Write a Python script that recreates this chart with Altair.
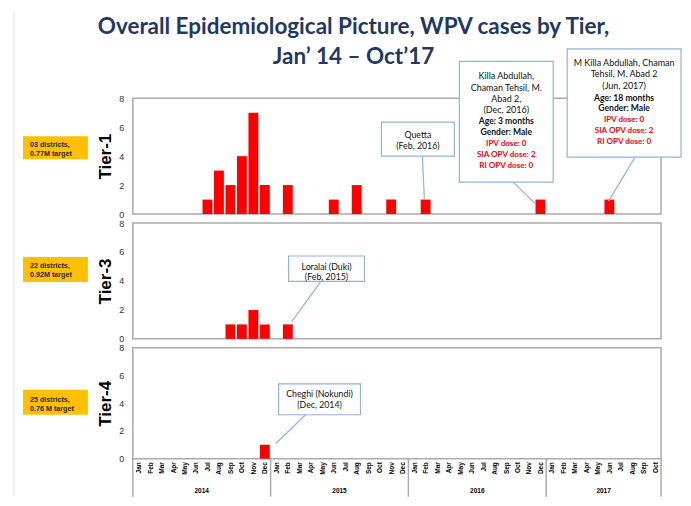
import altair as alt
import pandas as pd

# ---------------- data ----------------
month_names = ["Jan", "Feb", "Mar", "Apr", "May", "Jun", "Jul", "Aug", "Sep", "Oct", "Nov", "Dec"]
years = [2014, 2015, 2016, 2017]
months_per_year = [12, 12, 12, 10]

tier1_month = ["2014-07", "2014-08", "2014-09", "2014-10", "2014-11", "2014-12",
               "2015-02", "2015-06", "2015-08", "2015-11", "2016-02", "2016-12", "2017-06"]
tier1_cases = [1, 3, 2, 4, 7, 2, 2, 1, 2, 1, 1, 1, 1]

tier3_month = ["2014-09", "2014-10", "2014-11", "2014-12", "2015-02"]
tier3_cases = [1, 1, 2, 1, 1]

tier4_month = ["2014-12"]
tier4_cases = [1]

tier_names = ["Tier-1", "Tier-3", "Tier-4"]
tier_targets = [["03 districts,", "0.77M target"],
                ["22 districts,", "0.92M target"],
                ["25 districts,", "0.76 M target"]]

title_lines = ["Overall Epidemiological Picture, WPV cases by Tier,", "Jan\u2019 14 \u2013 Oct\u201917"]

# ---------------- helpers ----------------
N_MONTHS = sum(months_per_year)
W = 529
HEIGHTS = [116, 116, 111]
FRAME = "#ABABAB"
BLUE = "#8DB4E2"
FONT = "Lato"

xscale = alt.Scale(domain=[0, N_MONTHS], nice=False, zero=False)
yscale = alt.Scale(domain=[0, 8], nice=False)
one = pd.DataFrame({"k": [0]})


def month_index(s):
    y, m = s.split("-")
    return (int(y) - years[0]) * 12 + int(m) - 1


def bar_frame(months, cases):
    idx = [month_index(m) for m in months]
    return pd.DataFrame({
        "idx": idx,
        "cases": cases,
        "x0": [i + 0.07 for i in idx],
        "x1": [i + 0.93 for i in idx],
        "zero": [0] * len(idx),
    })


def yaxis(title):
    return alt.Axis(title=title, values=[0, 2, 4, 6, 8], grid=False, ticks=False, domain=False,
                    labelFontSize=9, labelColor="#333333", labelFont="Liberation Sans",
                    labelPadding=9, titleFont="Liberation Sans", titleFontSize=17,
                    titleFontWeight="bold", titleColor="#000000", titlePadding=4)


def xaxis(show):
    if not show:
        return None
    return alt.Axis(values=[i + 0.5 for i in range(N_MONTHS)],
                    labelExpr="['Jan','Feb','Mar','Apr','May','Jun','Jul','Aug','Sep','Oct','Nov','Dec'][floor(datum.value) % 12]",
                    labelAngle=270, labelFontSize=6.5, labelFontWeight="bold", labelFont="Liberation Sans",
                    labelColor="#000000", labelPadding=3, ticks=False, domain=False, grid=False,
                    title=None, labelOverlap=False, labelFlush=False)


def rect(x1, x2, y1, y2, fill, stroke=None, sw=1.2, opacity=1.0):
    kw = dict(fill=fill, opacity=opacity)
    if stroke:
        kw.update(stroke=stroke, strokeWidth=sw)
    return alt.Chart(one).mark_rect(**kw).encode(
        x=alt.value(x1), x2=alt.value(x2), y=alt.value(y1), y2=alt.value(y2))


def line(xa, ya, xb, yb, color=BLUE, sw=1.2):
    return alt.Chart(one).mark_rule(color=color, strokeWidth=sw).encode(
        x=alt.value(xa), y=alt.value(ya), x2=alt.value(xb), y2=alt.value(yb))


def label(txt, x, y, size=9, color="#111111", weight="normal", align="center", font=FONT,
          baseline="middle"):
    return alt.Chart(one).mark_text(font=font, fontSize=size, color=color, fontWeight=weight,
                                    align=align, baseline=baseline).encode(
        x=alt.value(x), y=alt.value(y), text=alt.value(txt))


def target_box(lines, y1, y2, ty):
    return [rect(-110, -45, y1, y2, "#FFC000"),
            label(lines[0], -103, ty[0], size=7.2, color="#262626", weight="bold", align="left",
                  font="Liberation Sans"),
            label(lines[1], -103, ty[1], size=7.2, color="#262626", weight="bold", align="left",
                  font="Liberation Sans")]


def panel(k, months, cases, show_x, extras):
    df = bar_frame(months, cases)
    xa = xaxis(show_x)
    bars = alt.Chart(df).mark_rect(color="#FF0000").encode(
        x=alt.X("x0:Q", scale=xscale, axis=xa),
        x2="x1",
        y=alt.Y("cases:Q", scale=yscale, axis=yaxis(tier_names[k])),
        y2="zero",
    )
    layers = [bars] + extras
    if show_x:
        H = HEIGHTS[k]
        starts = [0]
        for n in months_per_year:
            starts.append(starts[-1] + n)
        bounds = pd.DataFrame({"b": starts})
        mids = pd.DataFrame({"year": [str(y) for y in years],
                             "mid": [(starts[i] + starts[i + 1]) / 2 for i in range(len(years))]})
        sep = alt.Chart(bounds).mark_rule(color=FRAME, strokeWidth=1.5).encode(
            x=alt.X("b:Q", scale=xscale, axis=xa), y=alt.value(H), y2=alt.value(H + 38))
        yr = alt.Chart(mids).mark_text(font="Liberation Sans", fontSize=6.5, fontWeight="bold",
                                       color="#000000", baseline="middle").encode(
            x=alt.X("mid:Q", scale=xscale, axis=xa), y=alt.value(H + 32), text="year:N")
        layers += [sep, yr]
    return alt.layer(*layers).properties(width=W, height=HEIGHTS[k])


# ---------- panel 1 extras ----------
p1_extra = [
    # invisible anchor fixing the top-left corner of the page, slide border line
    rect(-124, -123, -89, -88, "#FFFFFF", opacity=0.0),
    line(-119, -87, -119, 398, color="#DDDDDD", sw=1.0),
    # title
    label(title_lines[0], 221, -64, size=22.5, color="#1F3864", weight="bold", baseline="alphabetic"),
    label(title_lines[1], 221, -34, size=22.5, color="#1F3864", weight="bold", baseline="alphabetic"),
]
p1_extra += target_box(tier_targets[0], 38, 61, [47, 55.5])
# Quetta
p1_extra += [line(290, 58, 292, 101),
             rect(249, 322, 24, 58, "#FFFFFF", stroke=BLUE),
             label("Quetta", 285.5, 36.5, size=8.8),
             label("(Feb, 2016)", 285.5, 47.5, size=8.8)]
# Killa Abdullah (Dec 2016)
p1_extra += [line(381, 84, 403.5, 106),
             rect(327, 421, -37, 84, "#FFFFFF", stroke=BLUE)]
for t, yy, sz, wt in [("Killa Abdullah,", -22, 9, "normal"), ("Chaman Tehsil, M.", -10.5, 9, "normal"),
                      ("Abad 2,", 0.7, 9, "normal"), ("(Dec, 2016)", 12, 9, "normal"),
                      ("Age: 3 months", 22.5, 8.6, "bold"), ("Gender: Male", 34, 8.6, "bold")]:
    p1_extra.append(label(t, 374, yy, size=sz, weight=wt))
for t, yy in [("IPV dose:  0", 46.3), ("SIA OPV dose:  2", 57), ("RI OPV dose:  0", 68)]:
    p1_extra.append(label(t, 374, yy, size=8.1, color="#FF0000", weight="bold"))
# M Killa Abdullah (Jun 2017)
p1_extra += [line(503, 59, 476.5, 103),
             rect(435, 549, -49.5, 59, "#FFFFFF", stroke=BLUE)]
for t, yy, sz, wt in [("M Killa Abdullah, Chaman", -35.3, 9, "normal"), ("Tehsil, M. Abad 2", -24.3, 9, "normal"),
                      ("(Jun, 2017)", -12.3, 9, "normal"), ("Age: 18 months", -0.5, 8.6, "bold"),
                      ("Gender: Male", 10, 8.6, "bold")]:
    p1_extra.append(label(t, 492, yy, size=sz, weight=wt))
for t, yy in [("IPV dose:  0", 21.7), ("SIA OPV dose:  2", 33), ("RI OPV dose:  0", 44)]:
    p1_extra.append(label(t, 492, yy, size=8.1, color="#FF0000", weight="bold"))

# ---------- panel 2 extras ----------
p2_extra = target_box(tier_targets[1], 34, 59, [43.5, 52.5])
p2_extra += [line(188, 59, 159, 99),
             rect(156, 232, 33, 58.5, "#FFFFFF", stroke=BLUE),
             label("Loralai (Duki)", 194, 43.7, size=8.8),
             label("(Feb, 2015)", 194, 54.5, size=8.8)]

# ---------- panel 3 extras ----------
p3_extra = target_box(tier_targets[2], 42, 67, [52, 61])
p3_extra += [line(173, 67, 143, 96),
             rect(146, 228, 36, 67, "#FFFFFF", stroke=BLUE),
             label("Cheghi (Nokundi)", 187, 46.5, size=8.8),
             label("(Dec, 2014)", 187, 57.5, size=8.8)]

p1 = panel(0, tier1_month, tier1_cases, False, p1_extra)
p2 = panel(1, tier3_month, tier3_cases, False, p2_extra)
p3 = panel(2, tier4_month, tier4_cases, True, p3_extra)

chart = alt.vconcat(p1, p2, p3, spacing=9, bounds="flush").properties(
    padding={"left": 0, "top": 0, "right": 0, "bottom": 0}
).configure_view(stroke=FRAME, strokeWidth=1.5)

chart.save("out.html", embed_options={"renderer": "svg", "actions": False})
